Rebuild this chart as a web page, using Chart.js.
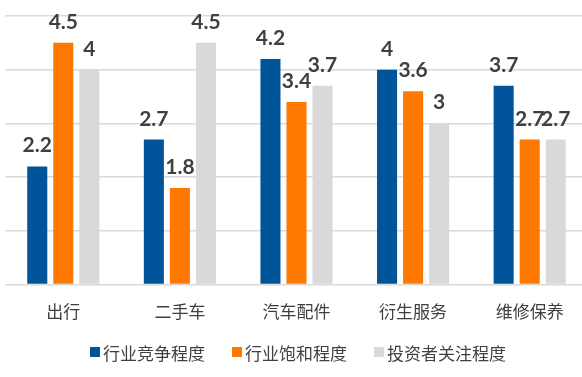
<!DOCTYPE html>
<html>
<head>
<meta charset="utf-8">
<script src="https://cdn.jsdelivr.net/npm/chart.js@4"></script>
<style>
  html, body { margin: 0; padding: 0; background: #fff; overflow: hidden; }
  #wrap { position: absolute; left: 0; top: 0; width: 588px; height: 377px; }
  #legend {
    position: absolute; left: 90px; top: 342px; height: 20px;
    display: flex; align-items: center;
    font-family: "Noto Sans CJK SC", sans-serif; font-size: 17px; color: #404040;
    white-space: nowrap;
  }
  .item { display: flex; align-items: center; margin-right: 27px; }
  .box { width: 10px; height: 10px; margin-right: 3px; }
</style>
</head>
<body>
<div id="wrap"><canvas id="c"></canvas></div>
<div id="legend"></div>
<script>
// ── Données ────────────────────────────────────────────────
const categories  = ['出行', '二手车', '汽车配件', '衍生服务', '维修保养'];
const competition = [2.2, 2.7, 4.2, 4, 3.7];   // 行业竞争程度
const saturation  = [4.5, 1.8, 3.4, 3.6, 2.7]; // 行业饱和程度
const attention   = [4, 4.5, 3.7, 3, 2.7];     // 投资者关注程度

const seriesNames  = ['行业竞争程度', '行业饱和程度', '投资者关注程度'];
const seriesColors = ['#00549a', '#ff7800', '#d9d9d9'];

// ── Étiquettes de valeurs au-dessus des barres ─────────────
const valueLabels = {
  id: 'valueLabels',
  afterDatasetsDraw(chart) {
    const ctx = chart.ctx;
    ctx.save();
    ctx.font = 'bold 21px Lato, sans-serif';
    ctx.fillStyle = '#404040';
    ctx.textAlign = 'center';
    ctx.textBaseline = 'alphabetic';
    chart.data.datasets.forEach((ds, i) => {
      chart.getDatasetMeta(i).data.forEach((bar, j) => {
        ctx.fillText(String(ds.data[j]), bar.x, bar.y - 14);
      });
    });
    ctx.restore();
  },
};

new Chart(document.getElementById('c'), {
  type: 'bar',
  data: {
    labels: categories,
    datasets: [competition, saturation, attention].map((d, i) => ({
      label: seriesNames[i],
      data: d,
      backgroundColor: seriesColors[i],
      barPercentage: 0.77,
      categoryPercentage: 0.67,
    })),
  },
  options: {
    responsive: true,
    maintainAspectRatio: false,
    animation: false,
    layout: { padding: { top: 16, left: 5, right: 0, bottom: 38 } },
    plugins: {
      legend: { display: false },
      tooltip: { enabled: false },
    },
    scales: {
      x: {
        grid: { display: false, drawTicks: false },
        border: { display: false },
        ticks: {
          padding: 17,
          color: '#404040',
          font: { family: '"Noto Sans CJK SC", sans-serif', size: 17 },
        },
      },
      y: {
        min: 0,
        max: 5,
        ticks: { display: false, stepSize: 1 },
        border: { display: false },
        grid: { color: '#dadada', lineWidth: 1.5, drawTicks: false },
      },
    },
  },
  plugins: [valueLabels],
});

// ── Légende HTML ───────────────────────────────────────────
const legend = document.getElementById('legend');
seriesNames.forEach((name, i) => {
  const item = document.createElement('div');
  item.className = 'item';
  const box = document.createElement('span');
  box.className = 'box';
  box.style.background = seriesColors[i];
  const txt = document.createElement('span');
  txt.textContent = name;
  item.appendChild(box);
  item.appendChild(txt);
  legend.appendChild(item);
});
</script>
</body>
</html>
